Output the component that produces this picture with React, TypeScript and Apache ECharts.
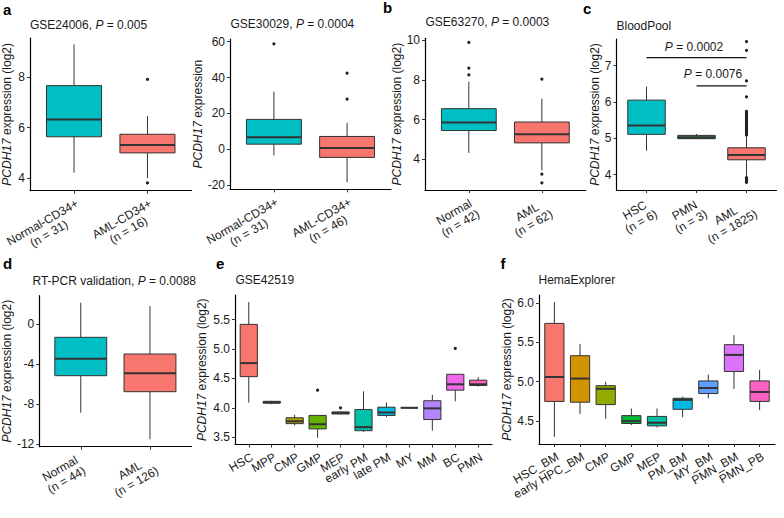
import React, { useEffect, useRef } from 'react';
import * as echarts from 'echarts';

const FONT = '"Liberation Sans", Arial, Helvetica, sans-serif';
const TEXT = '#1a1a1a';
const BOX_LINE = '#333333';
const TEAL = '#00BFC4';
const SALMON = '#F8766D';

// ---------- data ----------
// box rows: [lowerWhisker, Q1, median, Q3, upperWhisker]
const a1Labels = ['Normal-CD34+\n(n = 31)', 'AML-CD34+\n(n = 16)'];
const a1Boxes = [[4.22, 5.64, 6.33, 7.67, 9.31], [4.0, 5.0, 5.31, 5.74, 6.46]];
const a1Outliers = [[2, 7.92], [2, 3.81]];
const a1Ticks = [4, 6, 8];

const a2Labels = ['Normal-CD34+\n(n = 31)', 'AML-CD34+\n(n = 46)'];
const a2Boxes = [[-3.5, 2.8, 6.7, 16.6, 32.1], [-18.5, -4.6, 0.7, 7.1, 14.7]];
const a2Outliers = [[1, 58.8], [2, 42.4], [2, 28.0]];
const a2Ticks = [-20, 0, 20, 40, 60];

const bLabels = ['Normal\n(n = 42)', 'AML\n(n = 62)'];
const bBoxes = [[4.33, 5.45, 5.86, 6.55, 7.91], [3.46, 4.83, 5.26, 5.88, 7.05]];
const bOutliers = [[1, 9.88], [1, 8.59], [1, 8.25], [2, 8.04], [2, 3.26], [2, 2.82]];
const bTicks = [4, 6, 8, 10];

const cLabels = ['HSC\n(n = 6)', 'PMN\n(n = 3)', 'AML\n(n = 1825)'];
const cBoxes = [[4.66, 5.11, 5.35, 6.05, 6.42], [4.98, 4.99, 5.02, 5.08, 5.12], [3.95, 4.41, 4.54, 4.74, 5.05]];
const cOutlierValues = [7.66, 7.42, 6.58, 6.14, 5.74, 5.70, 5.66, 5.62, 5.58, 5.55, 5.52, 5.48, 5.45, 5.42, 5.38,
  5.35, 5.32, 5.28, 5.25, 5.22, 5.19, 5.16, 5.12, 5.09, 3.92, 3.88, 3.85, 3.82, 3.79];
const cTicks = [4, 5, 6, 7];
// brackets: [fromCategory, toCategory, lineValue, labelCategoryPos, labelValue]
const cBrackets = [[1, 3, 7.22, 1.95, 7.52], [2, 3, 6.44, 2.33, 6.77]];
const cBracketText = ['0.0002', '0.0076'];

const dLabels = ['Normal\n(n = 44)', 'AML\n(n = 126)'];
const dBoxes = [[-8.84, -5.14, -3.44, -1.3, 2.16], [-11.5, -6.74, -4.9, -2.97, 1.83]];
const dTicks = [-12, -8, -4, 0];

const eLabels = ['HSC', 'MPP', 'CMP', 'GMP', 'MEP', 'early PM', 'late PM', 'MY', 'MM', 'BC', 'PMN'];
const eBoxes = [
  [4.09, 4.53, 4.76, 5.42, 5.80],
  [4.06, 4.08, 4.09, 4.11, 4.12],
  [3.70, 3.73, 3.77, 3.83, 3.88],
  [3.49, 3.64, 3.72, 3.87, 3.87],
  [3.89, 3.895, 3.91, 3.93, 3.93],
  [3.59, 3.61, 3.67, 3.97, 4.28],
  [3.84, 3.87, 3.92, 4.01, 4.09],
  [4.0, 4.0, 4.0, 4.0, 4.0],
  [3.61, 3.80, 3.99, 4.12, 4.22],
  [4.11, 4.30, 4.40, 4.57, 4.57],
  [4.36, 4.38, 4.40, 4.47, 4.52],
];
const eOutliers = [[4, 4.30], [5, 4.0], [10, 5.01]];
const eTicks = [3.5, 4.0, 4.5, 5.0, 5.5];
const eColors = ['#F8766D', '#DB8E00', '#AEA200', '#64B200', '#00BD5C', '#00C1A7', '#00BADE', '#00A6FF', '#B385FF', '#EF67EB', '#FF63B6'];

const fLabels = ['HSC_BM', 'early HPC_BM', 'CMP', 'GMP', 'MEP', 'PM_BM', 'MY_BM', 'PMN_BM', 'PMN_PB'];
const fBoxes = [
  [4.30, 4.75, 5.06, 5.74, 6.01],
  [4.59, 4.74, 5.04, 5.33, 5.48],
  [4.53, 4.71, 4.91, 4.95, 5.00],
  [4.45, 4.47, 4.50, 4.57, 4.66],
  [4.42, 4.44, 4.48, 4.56, 4.66],
  [4.55, 4.65, 4.77, 4.79, 4.81],
  [4.79, 4.85, 4.92, 5.01, 5.09],
  [4.91, 5.13, 5.34, 5.47, 5.59],
  [4.64, 4.75, 4.87, 5.01, 5.15],
];
const fTicks = [4.5, 5.0, 5.5, 6.0];
const fColors = ['#F8766D', '#D39200', '#93AA00', '#00BA38', '#00C19F', '#00B9E3', '#619CFF', '#DB72FB', '#FF61C3'];

// ---------- layout ----------
const YNAME_LOG = '{i|PCDH17} expression (log2)';
const YNAME_RAW = '{i|PCDH17} expression';

const panels = [
  { left: 30, top: 38, width: 161.5, height: 152.7, labels: a1Labels, boxes: a1Boxes, outliers: a1Outliers, colors: [TEAL, SALMON],
    yMin: 3.5, yMax: 9.56, ticks: a1Ticks, digits: 0, yName: YNAME_LOG, nameGap: 17 },
  { left: 230, top: 39, width: 161, height: 150.3, labels: a2Labels, boxes: a2Boxes, outliers: a2Outliers, colors: [TEAL, SALMON],
    yMin: -22.4, yMax: 61.5, ticks: a2Ticks, digits: 0, yName: YNAME_RAW, nameGap: 26 },
  { left: 425, top: 38.3, width: 160.7, height: 151.7, labels: bLabels, boxes: bBoxes, outliers: bOutliers, colors: [TEAL, SALMON],
    yMin: 2.46, yMax: 10.09, ticks: bTicks, digits: 0, yName: YNAME_LOG, nameGap: 16 },
  { left: 616.5, top: 39, width: 160, height: 151, labels: cLabels, boxes: cBoxes,
    outliers: cOutlierValues.map((v) => [3, v]), colors: [TEAL, '#357a43', SALMON],
    yMin: 3.58, yMax: 7.73, ticks: cTicks, digits: 0, yName: YNAME_LOG, nameGap: 9 },
  { left: 31, top: 295.7, width: 160.5, height: 151, labels: dLabels, boxes: dBoxes, outliers: [], colors: [TEAL, SALMON],
    yMin: -12.24, yMax: 2.86, ticks: dTicks, digits: 0, yName: YNAME_LOG, nameGap: 18 },
  { left: 235, top: 295, width: 257, height: 149.5, labels: eLabels, boxes: eBoxes, outliers: eOutliers, colors: eColors,
    yMin: 3.375, yMax: 5.92, ticks: eTicks, digits: 1, yName: YNAME_LOG, nameGap: 27 },
  { left: 539, top: 295, width: 236, height: 149, labels: fLabels, boxes: fBoxes, outliers: [], colors: fColors,
    yMin: 4.21, yMax: 6.1, ticks: fTicks, digits: 1, yName: YNAME_LOG, nameGap: 26 },
];

const titles = [
  { x: 30, y: 25, text: 'GSE24006, {i|P} = 0.005' },
  { x: 230.5, y: 24.3, text: 'GSE30029, {i|P} = 0.0004' },
  { x: 425.5, y: 22, text: 'GSE63270, {i|P} = 0.0003' },
  { x: 616.5, y: 26.2, text: 'BloodPool' },
  { x: 32.5, y: 281, text: 'RT-PCR validation, {i|P} = 0.0088' },
  { x: 235.5, y: 280, text: 'GSE42519' },
  { x: 538.5, y: 280, text: 'HemaExplorer' },
];

const letters = [
  { x: 3, y: 9.7, text: 'a' },
  { x: 383, y: 7.4, text: 'b' },
  { x: 583, y: 8, text: 'c' },
  { x: 3, y: 263.7, text: 'd' },
  { x: 216, y: 263.7, text: 'e' },
  { x: 500.5, y: 263.7, text: 'f' },
];

const italicRich = { i: { fontStyle: 'italic', fontSize: 12, fontFamily: FONT, color: TEXT } };

function boxRenderItem(colors: string[]) {
  return (params: any, api: any) => {
    const x = api.value(0);
    const lo = api.value(1), q1 = api.value(2), med = api.value(3), q3 = api.value(4), hi = api.value(5);
    const halfW = api.size([0.75, 0])[0] / 2;
    const pHi = api.coord([x, hi]);
    const pQ3 = api.coord([x, q3]);
    const pMed = api.coord([x, med]);
    const pQ1 = api.coord([x, q1]);
    const pLo = api.coord([x, lo]);
    const cx = pMed[0];
    const lineStyle = { stroke: BOX_LINE, lineWidth: 1 };
    return {
      type: 'group',
      children: [
        { type: 'line', shape: { x1: cx, y1: pHi[1], x2: cx, y2: pQ3[1] }, style: lineStyle },
        { type: 'line', shape: { x1: cx, y1: pQ1[1], x2: cx, y2: pLo[1] }, style: lineStyle },
        { type: 'rect', shape: { x: cx - halfW, y: pQ3[1], width: 2 * halfW, height: Math.max(pQ1[1] - pQ3[1], 0.01) },
          style: { fill: colors[params.dataIndex], stroke: BOX_LINE, lineWidth: 1 } },
        { type: 'line', shape: { x1: cx - halfW, y1: pMed[1], x2: cx + halfW, y2: pMed[1] }, style: { stroke: BOX_LINE, lineWidth: 2 } },
      ],
    };
  };
}

function bracketRenderItem(params: any, api: any) {
  const i = params.dataIndex;
  const p1 = api.coord([api.value(0), api.value(2)]);
  const p2 = api.coord([api.value(1), api.value(2)]);
  const pt = api.coord([api.value(3), api.value(4)]);
  return {
    type: 'group',
    children: [
      { type: 'line', shape: { x1: p1[0], y1: p1[1], x2: p2[0], y2: p2[1] }, style: { stroke: '#111', lineWidth: 1.2 } },
      { type: 'text', x: pt[0], y: pt[1],
        style: { text: '{i|P} = ' + cBracketText[i], rich: italicRich, fontSize: 12, fontFamily: FONT, fill: TEXT,
          align: 'center', verticalAlign: 'middle' } },
    ],
  };
}

function buildOption() {
  const grid: any[] = [];
  const xAxis: any[] = [];
  const yAxis: any[] = [];
  const series: any[] = [];
  const np = panels.length;
  panels.forEach((p, idx) => {
    const n = p.labels.length;
    const cats = p.labels.map((_, i) => i + 1);
    grid.push({ left: p.left, top: p.top, width: p.width, height: p.height, containLabel: false });
    xAxis.push({
      type: 'value', gridIndex: idx, min: 0.4, max: n + 0.6,
      splitLine: { show: false },
      axisLine: { show: true, onZero: false, lineStyle: { color: '#000', width: 1.2 } },
      axisTick: { show: true, customValues: cats, length: 3, lineStyle: { color: '#333', width: 1 } },
      axisLabel: { show: false },
    });
    yAxis.push({
      type: 'value', gridIndex: idx, min: p.yMin, max: p.yMax,
      splitLine: { show: false },
      axisLine: { show: true, onZero: false, lineStyle: { color: '#000', width: 1.2 } },
      axisTick: { show: true, customValues: p.ticks, length: 3, lineStyle: { color: '#333', width: 1 } },
      axisLabel: {
        customValues: p.ticks, margin: 5, fontSize: 12, fontFamily: FONT, color: TEXT,
        showMinLabel: true, showMaxLabel: true,
        formatter: (v: number) => v.toFixed(p.digits),
      },
      name: p.yName, nameLocation: 'middle', nameGap: p.nameGap,
      nameTextStyle: { fontSize: 12, fontFamily: FONT, color: TEXT, rich: italicRich },
    });
    series.push({
      type: 'custom', xAxisIndex: idx, yAxisIndex: idx,
      renderItem: boxRenderItem(p.colors),
      data: p.boxes.map((b, i) => [i + 1, ...b]),
      encode: { x: 0, y: [1, 2, 3, 4, 5] },
      silent: true,
    });
    if (p.outliers.length) {
      series.push({
        type: 'scatter', xAxisIndex: idx, yAxisIndex: idx, data: p.outliers,
        symbolSize: 3.2, itemStyle: { color: '#222', opacity: 1 }, silent: true,
      });
    }
    if (idx === 3) {
      series.push({
        type: 'custom', xAxisIndex: idx, yAxisIndex: idx, renderItem: bracketRenderItem,
        data: cBrackets, encode: { x: [0, 1], y: 2 }, silent: true, clip: false,
      });
    }
  });

  // label grids: a category axis whose band centres coincide with the value-axis positions 1..n
  panels.forEach((p, idx) => {
    const n = p.labels.length;
    const u = p.width / (n + 0.2);
    grid.push({ left: p.left + 0.1 * u, top: p.top, width: n * u, height: p.height, containLabel: false });
    xAxis.push({
      type: 'category', gridIndex: np + idx, data: p.labels,
      axisLine: { show: false }, axisTick: { show: false }, splitLine: { show: false },
      axisLabel: {
        interval: 0, rotate: 30, margin: 6, align: 'right', verticalAlign: 'top',
        fontSize: 12, fontFamily: FONT, color: TEXT,
        formatter: (s: string) => s.split('\n').map((t) => '{c|' + t + '}').join('\n'),
        rich: { c: { align: 'center', fontSize: 12, fontFamily: FONT, color: TEXT, lineHeight: 13 } },
      },
    });
    yAxis.push({ type: 'value', gridIndex: np + idx, show: false, min: 0, max: 1 });
  });

  const graphic: any[] = [];
  titles.forEach((t) => {
    graphic.push({
      type: 'text', x: t.x, y: t.y, silent: true,
      style: { text: t.text, rich: italicRich, fontSize: 12, fontFamily: FONT, fill: TEXT, align: 'left', verticalAlign: 'middle' },
    });
  });
  letters.forEach((t) => {
    graphic.push({
      type: 'text', x: t.x, y: t.y, silent: true,
      style: { text: t.text, fontSize: 15, fontWeight: 'bold', fontFamily: FONT, fill: '#000', align: 'left', verticalAlign: 'middle' },
    });
  });

  return {
    animation: false,
    backgroundColor: '#ffffff',
    textStyle: { fontFamily: FONT },
    grid, xAxis, yAxis, series, graphic,
  };
}

export default function App() {
  const ref = useRef<HTMLDivElement>(null);
  useEffect(() => {
    document.body.style.margin = '0';
    if (!ref.current) return;
    const chart = echarts.init(ref.current, undefined, { renderer: 'svg' });
    chart.setOption(buildOption() as any);
    return () => chart.dispose();
  }, []);
  return <div ref={ref} style={{ width: 784, height: 518 }} />;
}
